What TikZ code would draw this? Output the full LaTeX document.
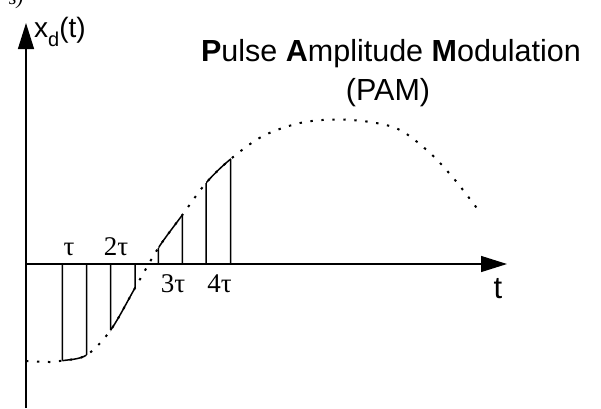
\documentclass[tikz,border=0pt]{standalone}
\usepackage{fontspec}
\setmainfont{Liberation Serif}
\newfontfamily\arialfont{Liberation Sans}
\usetikzlibrary{arrows.meta, intersections}

\tikzstyle{axis} = [line width=1.3pt, -{Triangle[length=26pt,width=16pt]}]
\tikzstyle{pulse} = [line width=1.5pt]
\tikzstyle{signal} = [line width=2pt, dash pattern=on 2.4pt off 8.6pt]
\tikzstyle{taulabel} = [font=\fontsize{27}{27}\selectfont, anchor=base, inner sep=0pt]
\tikzstyle{sanslabel} = [font=\arialfont\fontsize{30.5}{30.5}\selectfont, anchor=base, inner sep=0pt]
\tikzset{
  signalcurve/.style={insert path={plot[smooth, tension=0.55] coordinates {
    (26,361) (50,362) (62.3,360.7) (86.7,355) (110.7,330) (135,288)
    (158.3,248) (182.3,215) (206,183) (230.7,159) (263,136) (300,123)
    (335,119.5) (370,122) (400,130) (430,153) (455,180) (479,211)}}}
}

\begin{document}
\begin{tikzpicture}[x=1pt, y=-1pt]

  \useasboundingbox (0,0) rectangle (601,408);
  \clip (0,0) rectangle (601,408);

  % Axes
  \coordinate (origin) at (26,264);
  \coordinate (ybottom) at (26,408);
  \coordinate (ytip) at (26,23);
  \coordinate (xtip) at (507,264);
  \draw[axis] (ybottom) -- (ytip);
  \draw[axis] (origin) -- (xtip);

  % Sampled signal (dotted)
  \draw[signal, signalcurve];
  \path[name path=signal, signalcurve];

  % Pulses
  \foreach \i/\a/\b in {1/62.3/86.7, 2/110.7/135, 3/158.3/182.3, 4/206/230.7} {
    \path[name path=lft] (\a,0) -- (\a,408);
    \path[name path=rgt] (\b,0) -- (\b,408);
    \path[name intersections={of=signal and lft, by={topa\i}}];
    \path[name intersections={of=signal and rgt, by={topb\i}}];
    \coordinate (basea\i) at (\a,264);
    \coordinate (baseb\i) at (\b,264);
    \begin{scope}
      \clip (\a,0) rectangle (\b,408);
      \draw[pulse, signalcurve];
    \end{scope}
    \draw[pulse] (basea\i) -- (topa\i);
    \draw[pulse] (baseb\i) -- (topb\i);
  }

  % Labels
  \node[taulabel] (tau1) at (69,255) {τ};
  \node[taulabel] (tau2) at (116,255) {2τ};
  \node[taulabel] (tau3) at (173,292) {3τ};
  \node[taulabel] (tau4) at (219.5,292) {4τ};

  \node[font=\arialfont\fontsize{28}{28}\selectfont, anchor=base west, inner sep=0pt] (ylabel) at (34,37) {x\raisebox{-9pt}{\fontsize{20}{20}\selectfont d}(t)};
  \node[sanslabel, font=\arialfont\fontsize{31}{31}\selectfont] (xlabel) at (498,298) {t};

  \node[sanslabel] (title) at (391,61) {\textbf{P}ulse \textbf{A}mplitude \textbf{M}odulation};
  \node[sanslabel] (pam) at (388,100) {(PAM)};

  \node[font=\itshape\fontsize{20}{20}\selectfont, anchor=base, inner sep=0pt] (frag) at (16,4) {s)};

\end{tikzpicture}
\end{document}
